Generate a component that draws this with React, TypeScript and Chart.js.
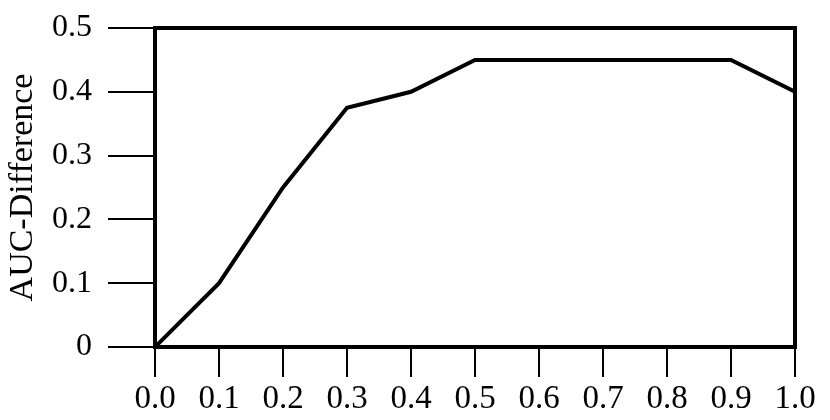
import React, { useEffect, useRef } from "react";
import { Chart, registerables } from "chart.js";

Chart.register(...registerables);

const xValues = [0.0, 0.1, 0.2, 0.3, 0.4, 0.5, 0.6, 0.7, 0.8, 0.9, 1.0];
const aucDifference = [0, 0.1, 0.25, 0.375, 0.4, 0.45, 0.45, 0.45, 0.45, 0.45, 0.4];
const yTitle = "AUC-Difference";

const framePlugin = {
  id: "frame",
  afterDatasetsDraw(chart: any) {
    const { ctx, chartArea } = chart;
    ctx.save();
    ctx.strokeStyle = "#000";
    ctx.lineWidth = 4;
    ctx.strokeRect(chartArea.left, chartArea.top, chartArea.right - chartArea.left, chartArea.bottom - chartArea.top);
    ctx.restore();
  },
};

export default function App() {
  const ref = useRef<HTMLCanvasElement>(null);
  useEffect(() => {
    const font = "'Liberation Serif', 'Times New Roman', serif";
    const chart = new Chart(ref.current!, {
      type: "line",
      data: {
        datasets: [
          {
            data: xValues.map((x, i) => ({ x, y: aucDifference[i] })),
            borderColor: "#000",
            borderWidth: 4,
            pointRadius: 0,
            tension: 0,
            fill: false,
          },
        ],
      },
      options: {
        animation: false,
        responsive: false,
        devicePixelRatio: 1,
        layout: { padding: { left: 0, top: 28, right: 35, bottom: 0 } },
        plugins: { legend: { display: false }, tooltip: { enabled: false } },
        scales: {
          x: {
            type: "linear",
            min: 0,
            max: 1,
            border: { display: false },
            grid: { drawOnChartArea: false, drawTicks: true, tickLength: 30, color: "#000", lineWidth: 2 },
            ticks: {
              stepSize: 0.1,
              padding: 3,
              color: "#000",
              font: { family: font, size: 33 },
              maxRotation: 0,
              callback: (v: any) => Number(v).toFixed(1),
            },
            afterFit: (s: any) => { s.height = 73; s.paddingLeft = 0; s.paddingRight = 0; },
          },
          y: {
            min: 0,
            max: 0.5,
            border: { display: false },
            grid: { drawOnChartArea: false, drawTicks: true, tickLength: 47, color: "#000", lineWidth: 2 },
            ticks: {
              stepSize: 0.1,
              padding: 16,
              color: "#000",
              font: { family: font, size: 32 },
              callback: (v: any) => (Number(v) === 0 ? "0" : Number(v).toFixed(1)),
            },
            title: {
              display: true,
              text: yTitle,
              color: "#000",
              font: { family: font, size: 34 },
              padding: { top: 3, bottom: 0 },
            },
            afterFit: (s: any) => { s.width = 155; s.paddingTop = 0; s.paddingBottom = 0; },
          },
        },
      },
      plugins: [framePlugin],
    });
    return () => chart.destroy();
  }, []);
  return (
    <div style={{ position: "fixed", left: 0, top: 0, width: 830, height: 420, background: "#fff" }}>
      <canvas ref={ref} width={830} height={420} />
    </div>
  );
}
